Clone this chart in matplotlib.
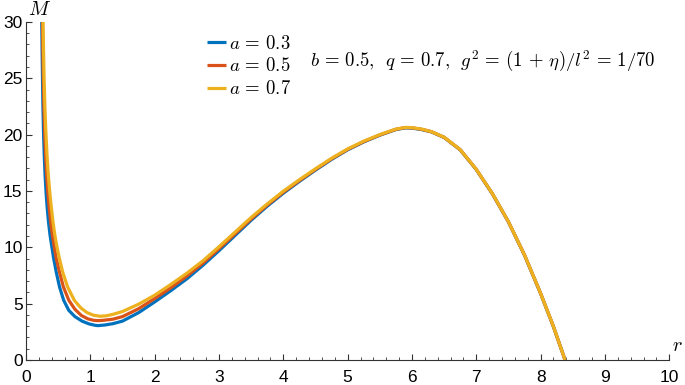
import numpy as np
import matplotlib.pyplot as plt
from matplotlib.ticker import MultipleLocator

plt.rcParams['font.family'] = ['Liberation Sans', 'DejaVu Sans']
plt.rcParams['mathtext.fontset'] = 'cm'

# values (r, M) for each a
r_a03 = [0.245, 0.250, 0.256, 0.263, 0.272, 0.283, 0.296, 0.311, 0.329, 0.35, 0.373, 0.397, 0.43, 0.47,
         0.52, 0.585, 0.665, 0.76, 0.87, 0.98, 1.08, 1.12, 1.22, 1.35, 1.5, 1.75, 2.0, 2.25, 2.5, 2.75,
         3.0, 3.25, 3.5, 3.75, 4.0, 4.25, 4.5, 4.75, 5.0, 5.25, 5.5, 5.75, 5.9, 6.0, 6.15, 6.3, 6.5,
         6.75, 7.0, 7.25, 7.5, 7.75, 8.0, 8.2, 8.38]
M_a03 = [30, 27.5, 25, 22.5, 20.2, 18.2, 16.4, 14.9, 13.5, 12.2, 11.1, 10.2, 9.0, 7.8,
         6.5, 5.3, 4.4, 3.85, 3.45, 3.2, 3.07, 3.05, 3.1, 3.22, 3.45, 4.2, 5.15, 6.15, 7.2, 8.4,
         9.7, 11.05, 12.4, 13.65, 14.8, 15.85, 16.85, 17.8, 18.65, 19.35, 19.95, 20.45, 20.6, 20.58, 20.45, 20.25, 19.75,
         18.65, 16.9, 14.75, 12.25, 9.3, 5.9, 2.95, 0]

r_a05 = [0.255, 0.261, 0.2685, 0.278, 0.290, 0.304, 0.320, 0.339, 0.36, 0.384, 0.409, 0.434, 0.47, 0.52,
         0.58, 0.665, 0.76, 0.86, 0.96, 1.05, 1.12, 1.2, 1.35, 1.5, 1.75, 2.0, 2.25, 2.5, 2.75,
         3.0, 3.25, 3.5, 3.75, 4.0, 4.25, 4.5, 4.75, 5.0, 5.25, 5.5, 5.75, 5.9, 6.0, 6.15, 6.3, 6.5,
         6.75, 7.0, 7.25, 7.5, 7.75, 8.0, 8.2, 8.38]
M_a05 = [30, 27.5, 25, 22.5, 20.2, 18.2, 16.4, 14.9, 13.5, 12.2, 11.1, 10.2, 9.0, 7.8,
         6.5, 5.3, 4.5, 3.95, 3.65, 3.52, 3.49, 3.52, 3.62, 3.85, 4.55, 5.45, 6.4, 7.45, 8.6,
         9.88, 11.2, 12.52, 13.75, 14.89, 15.92, 16.91, 17.85, 18.69, 19.38, 19.97, 20.47, 20.62, 20.6, 20.47, 20.26, 19.76,
         18.66, 16.91, 14.76, 12.26, 9.31, 5.91, 2.96, 0]

r_a07 = [0.265, 0.272, 0.281, 0.293, 0.308, 0.325, 0.345, 0.367, 0.392, 0.418, 0.445, 0.472, 0.515, 0.57,
         0.645, 0.75, 0.855, 0.95, 1.05, 1.15, 1.25, 1.35, 1.5, 1.75, 2.0, 2.25, 2.5, 2.75,
         3.0, 3.25, 3.5, 3.75, 4.0, 4.25, 4.5, 4.75, 5.0, 5.25, 5.5, 5.75, 5.9, 6.0, 6.15, 6.3, 6.5,
         6.75, 7.0, 7.25, 7.5, 7.75, 8.0, 8.2, 8.38]
M_a07 = [30, 27.5, 25, 22.5, 20.3, 18.3, 16.5, 15.0, 13.6, 12.3, 11.2, 10.3, 9.1, 7.8,
         6.5, 5.3, 4.6, 4.2, 3.97, 3.88, 3.92, 4.05, 4.3, 4.95, 5.75, 6.7, 7.7, 8.8,
         10.05, 11.35, 12.65, 13.85, 14.98, 16.0, 16.97, 17.9, 18.73, 19.42, 20.0, 20.49, 20.64, 20.62, 20.49, 20.27, 19.77,
         18.67, 16.92, 14.77, 12.27, 9.32, 5.92, 2.97, 0]

labels = [r'$a\,=\,0.3$', r'$a\,=\,0.5$', r'$a\,=\,0.7$']
colors = ['#0072BD', '#D95319', '#EDB120']

fig = plt.figure(figsize=(6.85, 3.85), dpi=100)
ax = fig.add_axes([0.038, 0.065, 0.939, 0.878])

for rr, MM, lab, c in zip([r_a03, r_a05, r_a07], [M_a03, M_a05, M_a07], labels, colors):
    assert len(rr) == len(MM)
    ax.plot(rr, MM, color=c, lw=2.3, label=lab, solid_capstyle='butt', solid_joinstyle='round')

ax.set_xlim(0, 10)
ax.set_ylim(0, 30)
ax.spines['top'].set_visible(False)
ax.spines['right'].set_visible(False)
for s in ['left', 'bottom']:
    ax.spines[s].set_color('#333333')
    ax.spines[s].set_linewidth(0.8)

ax.xaxis.set_major_locator(MultipleLocator(1))
ax.xaxis.set_minor_locator(MultipleLocator(0.2))
ax.yaxis.set_major_locator(MultipleLocator(5))
ax.yaxis.set_minor_locator(MultipleLocator(1))
ax.tick_params(which='major', direction='in', length=4.5, width=0.8, color='#333333', labelsize=12.5)
ax.tick_params(which='minor', direction='in', length=2.3, width=0.6, color='#333333')
ax.tick_params(axis='x', pad=7)
ax.tick_params(axis='y', pad=2.5)

ax.text(0.003, 1.01, r'$M$', transform=ax.transAxes, fontsize=14.5, ha='left', va='bottom')
ax.text(1.005, 0.015, r'$r$', transform=ax.transAxes, fontsize=14.5, ha='left', va='bottom')

ax.legend(loc='upper left', bbox_to_anchor=(0.281, 0.962), frameon=False, fontsize=13.5,
          handlelength=1.0, handletextpad=0.2, labelspacing=0.25, borderaxespad=0, borderpad=0)
ax.text(0.442, 0.884, r'$b\,=\,0.5,\ \,q\,=\,0.7,\ \,g^2\,=\,(1\,+\,\eta)/l^2\,=\,1/70$',
        transform=ax.transAxes, fontsize=13.5, ha='left', va='center')

fig.savefig('out.png', dpi=100)
